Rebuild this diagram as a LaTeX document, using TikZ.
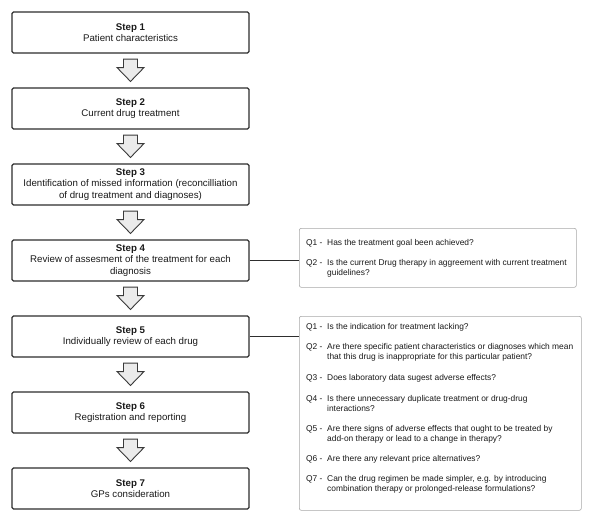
\documentclass[tikz,border=0pt]{standalone}
\usepackage{fontspec}
\setmainfont{Liberation Sans}
\usetikzlibrary{calc}
\definecolor{boxline}{HTML}{2E2E2E}
\definecolor{qline}{HTML}{A8A8A8}
\definecolor{arrowline}{HTML}{3A3A3A}
\definecolor{arrowfill}{HTML}{EBEBEB}
\definecolor{txt}{HTML}{1A1A1A}
\begin{document}
\begin{tikzpicture}[x=1pt,y=-1pt,
  stepbox/.style={draw=boxline, line width=1.1pt, rounded corners=1.5pt, fill=white,
    minimum width=237pt, minimum height=41pt, align=center, inner sep=0pt,
    text=txt, font=\fontsize{9.7}{11.5}\selectfont},
  qbox/.style={draw=qline, line width=0.6pt, rounded corners=2pt, fill=white, inner sep=0pt, anchor=north west},
  qlab/.style={anchor=base west, inner sep=0pt, text=txt, font=\fontsize{8.4}{10}\selectfont},
  qtxt/.style={anchor=base west, inner sep=0pt, align=left, text=txt, font=\fontsize{8.4}{10}\selectfont},
  blockarrow/.style={draw=arrowline, fill=arrowfill, line width=0.9pt, line join=miter},
  link/.style={draw=boxline, line width=1pt}]
\useasboundingbox[fill=white] (0,0) rectangle (593,522);

% steps
\node[stepbox] (s1) at (130.5,32.5) {\textbf{Step 1}\\Patient characteristics};
\node[stepbox] (s2) at (130.5,108.5) {\textbf{Step 2}\\Current drug treatment};
\node[stepbox] (s3) at (130.5,184.5) {\textbf{Step 3}\\Identification of missed information (reconcilliation\\of drug treatment and diagnoses)};
\node[stepbox] (s4) at (130.5,260.5) {\textbf{Step 4}\\Review of assesment of the treatment for each\\diagnosis};
\node[stepbox] (s5) at (130.5,336.5) {\textbf{Step 5}\\Individually review of each drug};
\node[stepbox] (s6) at (130.5,412.5) {\textbf{Step 6}\\Registration and reporting};
\node[stepbox] (s7) at (130.5,488.5) {\textbf{Step 7}\\GPs consideration};

% block arrows
\foreach \a/\b in {s1/s2,s2/s3,s3/s4,s4/s5,s5/s6,s6/s7}{
  \draw[blockarrow] ($(\a.south)+(-7,5.5)$) -- ++(14,0) -- ++(0,8.5) -- ++(6.5,0)
    -- ($(\b.north)+(0,-6)$) -- ($(\a.south)+(-13.5,14)$) -- ++(6.5,0) -- cycle;
}

% question boxes
\node[qbox, minimum width=277pt, minimum height=59pt] (qa) at (299,228) {};
\node[qbox, minimum width=282pt, minimum height=194pt] (qb) at (299,316) {};

\draw[link] (s4.east) -- (s4.east -| qa.west);
\draw[link] (s5.east) -- (s5.east -| qb.west);

% questions for step 4 (base anchor = baseline of last line)
\node[qlab] (qa1l) at (306,245) {Q1 -};
\node[qtxt] (qa1) at (327,245) {Has the treatment goal been achieved?};
\node[qlab] (qa2l) at (306,265) {Q2 -};
\node[qtxt] (qa2) at (327,275) {Is the current Drug therapy in aggreement with current treatment\\guidelines?};

% questions for step 5
\node[qlab] (qb1l) at (306,329) {Q1 -};
\node[qtxt] (qb1) at (327,329) {Is the indication for treatment lacking?};
\node[qlab] (qb2l) at (306,349) {Q2 -};
\node[qtxt] (qb2) at (327,359) {Are there specific patient characteristics or diagnoses which mean\\that this drug is inappropriate for this particular patient?};
\node[qlab] (qb3l) at (306,380) {Q3 -};
\node[qtxt] (qb3) at (327,380) {Does laboratory data sugest adverse effects?};
\node[qlab] (qb4l) at (306,401) {Q4 -};
\node[qtxt] (qb4) at (327,411) {Is there unnecessary duplicate treatment or drug-drug\\interactions?};
\node[qlab] (qb5l) at (306,431) {Q5 -};
\node[qtxt] (qb5) at (327,441) {Are there signs of adverse effects that ought to be treated by\\add-on therapy or lead to a change in therapy?};
\node[qlab] (qb6l) at (306,461) {Q6 -};
\node[qtxt] (qb6) at (327,461) {Are there any relevant price alternatives?};
\node[qlab] (qb7l) at (306,481) {Q7 -};
\node[qtxt] (qb7) at (327,491) {Can the drug regimen be made simpler, e.g. by introducing\\combination therapy or prolonged-release formulations?};
\end{tikzpicture}
\end{document}
